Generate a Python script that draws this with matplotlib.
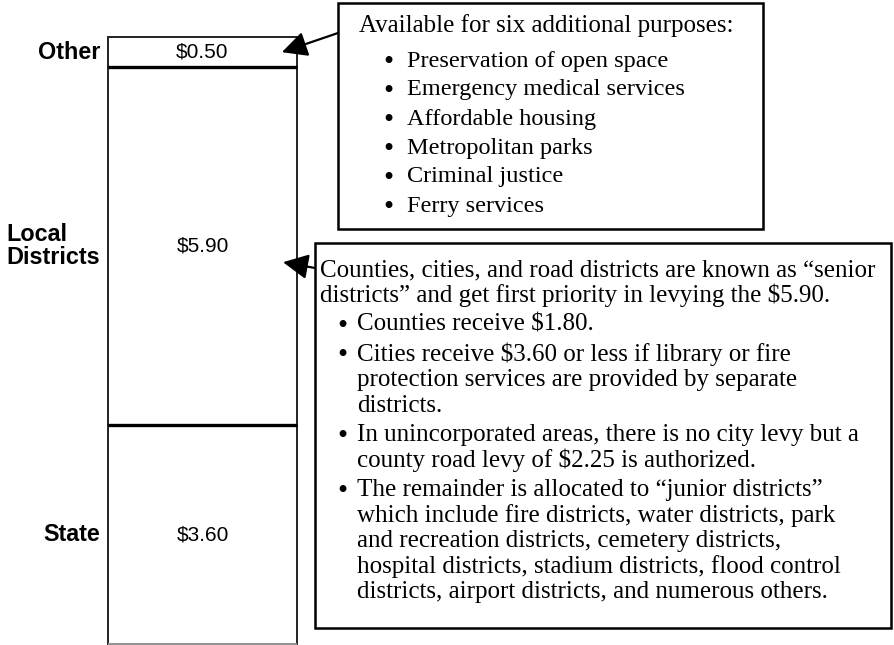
import matplotlib.pyplot as plt
from matplotlib.patches import Rectangle, FancyArrowPatch

W, H = 894, 645

# levy per $1,000 of assessed value, bottom to top
categories = ["State", "Local\nDistricts", "Other"]
amounts = [3.60, 5.90, 0.50]

other_head = "Available for six additional purposes:"
other_items = ["Preservation of open space",
               "Emergency medical services",
               "Affordable housing",
               "Metropolitan parks",
               "Criminal justice",
               "Ferry services"]

local_head = ["Counties, cities, and road districts are known as \u201csenior",
              "districts\u201d and get first priority in levying the $5.90."]
local_items = [["Counties receive $1.80."],
               ["Cities receive $3.60 or less if library or fire",
                "protection services are provided by separate",
                "districts."],
               ["In unincorporated areas, there is no city levy but a",
                "county road levy of $2.25 is authorized."],
               ["The remainder is allocated to \u201cjunior districts\u201d",
                "which include fire districts, water districts, park",
                "and recreation districts, cemetery districts,",
                "hospital districts, stadium districts, flood control",
                "districts, airport districts, and numerous others."]]

fig = plt.figure(figsize=(W / 100, H / 100), dpi=100)

def px(x, y):
    # pixel position (from top-left) -> figure fraction
    return x / W, 1 - y / H

# bar axes: left 108px, right 297px, top 37px, bottom 644px
ax = fig.add_axes([108 / W, (H - 644) / H, (297 - 108) / W, (644 - 37) / H])
ax.set_xlim(0, 1)
ax.set_ylim(0, sum(amounts))
ax.axis("off")

bottoms = []
b = 0
for a in amounts:
    bottoms.append(b)
    b += a

ax.bar([0.5] * len(amounts), amounts, bottom=bottoms, width=1,
       facecolor="white", edgecolor="#222222", linewidth=1.4, clip_on=False)
# thick separators between segments
ax.hlines(bottoms[1:], 0, 1, colors="black", linewidth=2.4, clip_on=False)
ax.hlines([0], 0, 1, colors="#aaaaaa", linewidth=1.2, clip_on=False)

sans = ["Liberation Sans", "DejaVu Sans"]
serif = ["Liberation Serif", "DejaVu Serif"]

for name, a, bt in zip(categories, amounts, bottoms):
    ax.text(0.5, bt + a / 2, f"${a:.2f}", ha="center", va="center",
            fontsize=15, family=sans)
    ax.text(-0.042, bt + a / 2, name, ha="right", va="center",
            multialignment="left", fontsize=16.8, fontweight="bold",
            family=sans, transform=ax.get_yaxis_transform(), linespacing=1.0)

# callout boxes
for (x0, y0, x1, y1) in [(338, 3, 763, 229), (315, 243, 891, 628)]:
    fx0, fy1 = px(x0, y0)
    fx1, fy0 = px(x1, y1)
    fig.patches.append(Rectangle((fx0, fy0), fx1 - fx0, fy1 - fy0,
                                 transform=fig.transFigure, fill=False,
                                 edgecolor="black", linewidth=1.8))

fs = 18
bfs = 21
bdy = 2  # bullets sit a little lower than the line centre
# box 1 text
fig.text(*px(359, 26), other_head, ha="left", va="center", fontsize=fs, family=serif)
y = 61
for item in other_items:
    fig.text(*px(388, y + bdy), "\u2022", ha="center", va="center", fontsize=bfs, family=serif)
    fig.text(*px(407, y), item, ha="left", va="center", fontsize=17.5, family=serif)
    y += 29

# box 2 text
y = 270
for line in local_head:
    fig.text(*px(320, y), line, ha="left", va="center", fontsize=fs, family=serif)
    y += 25.5
for item in local_items:
    y += 4
    fig.text(*px(342, y + bdy), "\u2022", ha="center", va="center", fontsize=bfs, family=serif)
    for line in item:
        fig.text(*px(357, y), line, ha="left", va="center", fontsize=fs, family=serif)
        y += 25.5

# arrows from boxes to bar segments: (tail px, tip x in axes, tip y in $)
arrow_specs = [((338, 33), 0.92, bottoms[2] + amounts[2] / 2),
               ((315, 268), 0.926, 6.29)]
for (tx, ty), ax_x, ax_y in arrow_specs:
    ar = FancyArrowPatch(fig.transFigure.transform(px(tx, ty)),
                         ax.transData.transform((ax_x, ax_y)),
                         transform=None, arrowstyle="-|>,head_length=0.7,head_width=0.35",
                         mutation_scale=22, linewidth=1.6,
                         color="black", shrinkA=0, shrinkB=0)
    fig.patches.append(ar)

fig.savefig("out.png", dpi=100)
